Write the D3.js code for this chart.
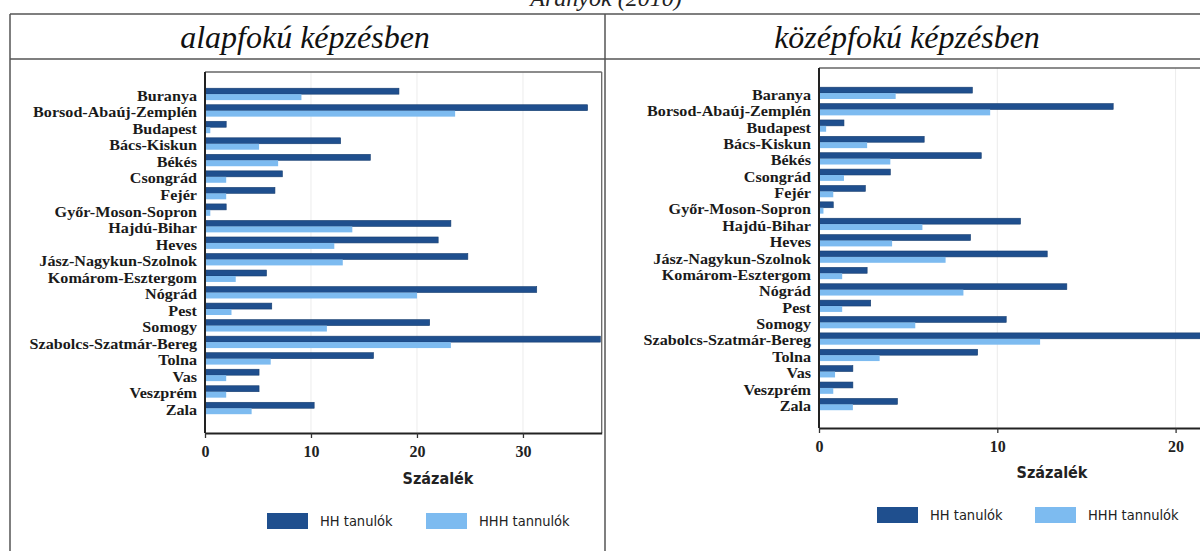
<!DOCTYPE html>
<html><head><meta charset="utf-8">
<script src="https://cdn.jsdelivr.net/npm/d3@7"></script>
<style>
html,body{margin:0;padding:0;background:#fff;overflow:hidden}
svg{display:block}
</style></head>
<body>
<svg id="chart" width="1200" height="551"></svg>
<script>
// ---- data ----
const labelsBasic = ["Buranya","Borsod-Abaúj-Zemplén","Budapest","Bács-Kiskun","Békés","Csongrád","Fejér","Győr-Moson-Sopron","Hajdú-Bihar","Heves","Jász-Nagykun-Szolnok","Komárom-Esztergom","Nógrád","Pest","Somogy","Szabolcs-Szatmár-Bereg","Tolna","Vas","Veszprém","Zala"];
const labelsSecondary = ["Baranya","Borsod-Abaúj-Zemplén","Budapest","Bács-Kiskun","Békés","Csongrád","Fejér","Győr-Moson-Sopron","Hajdú-Bihar","Heves","Jász-Nagykun-Szolnok","Komárom-Esztergom","Nógrád","Pest","Somogy","Szabolcs-Szatmár-Bereg","Tolna","Vas","Veszprém","Zala"];
const hhBasic  = [18.3,36.1,2.0,12.8,15.6,7.3,6.6,2.0,23.2,22.0,24.8,5.8,31.3,6.3,21.2,37.3,15.9,5.1,5.1,10.3];
const hhhBasic = [9.1,23.6,0.5,5.1,6.9,2.0,2.0,0.5,13.9,12.2,13.0,2.9,20.0,2.5,11.5,23.2,6.2,2.0,2.0,4.4];
const hhSecondary  = [8.6,16.5,1.4,5.9,9.1,4.0,2.6,0.8,11.3,8.5,12.8,2.7,13.9,2.9,10.5,22.0,8.9,1.9,1.9,4.4];
const hhhSecondary = [4.3,9.6,0.4,2.7,4.0,1.4,0.8,0.25,5.8,4.1,7.1,1.3,8.1,1.3,5.4,12.4,3.4,0.9,0.8,1.9];
const ticksBasic = [0,10,20,30];
const ticksSecondary = [0,10,20];
const panelTitles = ["alapfokú képzésben","középfokú képzésben"];
const topTitle = "Arányok (2010)";
const axisTitle = "Százalék";
const seriesNames = ["HH tanulók","HHH tannulók"];
const seriesKeys = ["hh","hhh"];

const colors = {hh:"#1f4f8e", hhh:"#7dbbf0"};
const svg = d3.select("#chart");
const serif = "'Liberation Serif','Times New Roman',serif";
const narrow = "'Liberation Sans Narrow','DejaVu Sans Condensed','Liberation Sans',sans-serif";

// ---- frame ----
const frame = svg.append("g").attr("stroke","#555").attr("stroke-width",1.5).attr("fill","none");
frame.append("line").attr("x1",10).attr("x2",1200).attr("y1",14).attr("y2",14);
frame.append("line").attr("x1",10).attr("x2",1200).attr("y1",59).attr("y2",59);
frame.append("line").attr("x1",10).attr("x2",10).attr("y1",14).attr("y2",551);
frame.append("line").attr("x1",605).attr("x2",605).attr("y1",14).attr("y2",551);

svg.append("text").attr("x",606).attr("y",6).attr("text-anchor","middle")
  .attr("font-family",serif).attr("font-size",24).attr("font-style","italic").attr("fill","#222").text(topTitle);

function drawPanel(cfg){
  const g = svg.append("g");
  const data = cfg.labels.map((l,i)=>({label:l, hh:cfg.hh[i], hhh:cfg.hhh[i]}));
  const x = d3.scaleLinear().domain([0,cfg.xmax]).range([cfg.x0,cfg.x1]);
  const y = d3.scaleBand().domain(cfg.labels).range([cfg.yb0,cfg.yb1]).paddingInner(0.28).paddingOuter(0.14);
  const ys = d3.scaleBand().domain(seriesKeys).range([0,y.bandwidth()]).padding(0);

  // title
  g.append("text").attr("x",cfg.titleX).attr("y",48).attr("text-anchor","middle")
    .attr("font-family",serif).attr("font-style","italic").attr("font-size",32).attr("fill","#111")
    .text(cfg.title);

  // gridlines
  g.append("g").selectAll("line").data(cfg.ticks.filter(t=>t>0)).join("line")
    .attr("x1",d=>x(d)).attr("x2",d=>x(d)).attr("y1",cfg.top).attr("y2",cfg.axisY)
    .attr("stroke","#ececec").attr("stroke-width",1);

  // bars
  const clipId = "clip"+cfg.id;
  g.append("clipPath").attr("id",clipId).append("rect")
    .attr("x",cfg.x0).attr("y",cfg.top).attr("width",cfg.x1-cfg.x0).attr("height",cfg.axisY-cfg.top);
  const rows = g.append("g").attr("clip-path",`url(#${clipId})`).selectAll("g").data(data).join("g")
    .attr("transform",d=>`translate(0,${y(d.label)})`);
  rows.selectAll("rect").data(d=>seriesKeys.map(k=>({k, v:d[k]}))).join("rect")
    .attr("x",x(0)).attr("y",d=>ys(d.k)).attr("width",d=>x(d.v)-x(0)).attr("height",ys.bandwidth())
    .attr("fill",d=>colors[d.k]).attr("stroke",d=>d.k==="hh"?"#173e70":"none").attr("stroke-width",0.6);

  // plot border
  g.append("line").attr("x1",cfg.x0).attr("x2",cfg.x1).attr("y1",cfg.top).attr("y2",cfg.top).attr("stroke","#666").attr("stroke-width",1.3);
  g.append("line").attr("x1",cfg.x1).attr("x2",cfg.x1).attr("y1",cfg.top).attr("y2",cfg.axisY).attr("stroke","#666").attr("stroke-width",1.3);
  g.append("line").attr("x1",cfg.x0).attr("x2",cfg.x0).attr("y1",cfg.top).attr("y2",cfg.axisY).attr("stroke","#222").attr("stroke-width",2);

  // category labels
  g.append("g").selectAll("text").data(cfg.labels).join("text")
    .attr("transform",d=>`translate(${cfg.x0-8},${y(d)+y.bandwidth()/2+1.5}) scale(1.09,1)`)
    .attr("dy","0.35em").attr("text-anchor","end")
    .attr("font-family",serif).attr("font-weight","bold").attr("font-size",14.8).attr("fill","#1a1a1a")
    .text(d=>d);

  // x axis
  const ax = g.append("g").attr("transform",`translate(0,${cfg.axisY})`)
    .call(d3.axisBottom(x).tickValues(cfg.ticks).tickSize(5).tickSizeOuter(0).tickFormat(d3.format("d")));
  ax.select(".domain").attr("stroke","#222").attr("stroke-width",2);
  ax.selectAll(".tick line").attr("stroke","#333").attr("stroke-width",1.3);
  ax.selectAll(".tick text").attr("font-family",serif).attr("font-weight","bold").attr("font-size",16).attr("fill","#222").attr("dy","1.0em");

  g.append("text").attr("x",cfg.axisTitleX).attr("y",cfg.axisTitleY).attr("text-anchor","middle")
    .attr("font-family",narrow).attr("font-weight","bold").attr("font-size",16).attr("fill","#222").text(axisTitle);

  // legend
  const lg = g.append("g");
  seriesKeys.forEach((k,i)=>{
    const lx = cfg.legend[i];
    lg.append("rect").attr("x",lx).attr("y",cfg.legendY-8).attr("width",cfg.swW).attr("height",16).attr("fill",colors[k]);
    lg.append("text").attr("x",lx+cfg.swW+12).attr("y",cfg.legendY).attr("dy","0.35em")
      .attr("font-family",narrow).attr("font-size",14.5).attr("fill","#222").text(seriesNames[i]);
  });
}

drawPanel({id:"a", title:panelTitles[0], titleX:305, labels:labelsBasic, hh:hhBasic, hhh:hhhBasic,
  ticks:ticksBasic, x0:205, x1:601.7, xmax:37.43, top:72, axisY:433, yb0:85.9, yb1:416.5,
  axisTitleX:438, axisTitleY:484, legend:[267,426], swW:41, legendY:521});
drawPanel({id:"b", title:panelTitles[1], titleX:907, labels:labelsSecondary, hh:hhSecondary, hhh:hhhSecondary,
  ticks:ticksSecondary, x0:819, x1:1290, xmax:(1290-819)/17.83, top:68, axisY:428, yb0:84.9, yb1:412.5,
  axisTitleX:1052, axisTitleY:478, legend:[877,1035], swW:41, legendY:515});
</script>
</body></html>
